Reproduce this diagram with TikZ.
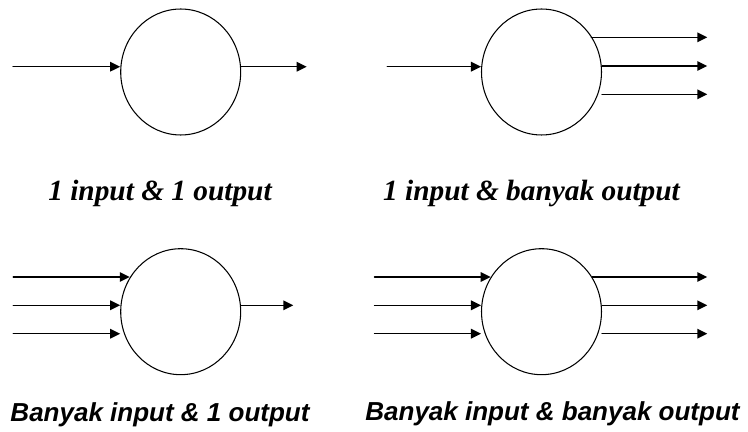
\documentclass[tikz,border=0pt]{standalone}
\usepackage{fontspec}
\setmainfont{Liberation Serif}
\setsansfont{Liberation Sans}
\usetikzlibrary{arrows.meta,shapes.geometric}

\begin{document}
\begin{tikzpicture}
		[x=0.02cm,y=-0.02cm,line cap=round,
		%Styles
		process/.style={ellipse,draw,line width=0.6pt,inner sep=0pt,minimum width=2.4cm,minimum height=2.52cm},
		flow/.style={line width=0.85pt,-{Triangle[length=0.2cm,width=0.19cm]}},
		serif caption/.style={anchor=base,font=\fontsize{16.7}{19}\selectfont\rmfamily\bfseries\itshape},
		sans caption/.style={anchor=base,font=\fontsize{14.8}{17}\selectfont\sffamily\bfseries\itshape}
		]
		\useasboundingbox (0,0) rectangle (748,432);
		
		%The processes
		\node[process] (p1) at (180.7,72) {};
		\node[process] (p2) at (541.5,72) {};
		\node[process] (p3) at (180.7,311.7) {};
		\node[process] (p4) at (541.5,311.7) {};
		
		%1 input & 1 output
		\coordinate (p1in) at (13,66.7);
		\coordinate (p1out) at (306.7,66.7);
		\draw[flow] (p1in) -- (p1in -| p1.west);
		\draw[flow] (p1out -| p1.east) -- (p1out);
		
		%1 input & banyak output
		\coordinate (p2in) at (387.3,66.7);
		\draw[flow] (p2in) -- (p2in -| p2.west);
		\foreach \y/\a in {37.3/p2.36, 66/p2.east, 94.3/p2.east}
			{\coordinate (p2out) at (707.3,\y);
			\draw[flow] (p2out -| \a) -- (p2out);}
		
		%Banyak input & 1 output
		\foreach \y/\a in {277/p3.146, 305.3/p3.west, 333.7/p3.west}
			{\coordinate (p3in) at (13.3,\y);
			\draw[flow] (p3in) -- (p3in -| \a);}
		\coordinate (p3out) at (293.3,305.3);
		\draw[flow] (p3out -| p3.east) -- (p3out);
		
		%Banyak input & banyak output
		\foreach \y/\a in {277/p4.146, 305.3/p4.west, 333.7/p4.west}
			{\coordinate (p4in) at (374.5,\y);
			\draw[flow] (p4in) -- (p4in -| \a);}
		\foreach \y/\a in {277/p4.34, 305.3/p4.east, 333.7/p4.east}
			{\coordinate (p4out) at (707.3,\y);
			\draw[flow] (p4out -| \a) -- (p4out);}
		
		%Captions
		\node[serif caption] (t1) at (160,201) {1 input \& 1 output};
		\node[serif caption] (t2) at (531.5,201) {1 input \& banyak output};
		\node[sans caption] (t3) at (160,422) {Banyak input \& 1 output};
		\node[sans caption] (t4) at (552.5,421) {Banyak input \& banyak output};
	\end{tikzpicture}
\end{document}
